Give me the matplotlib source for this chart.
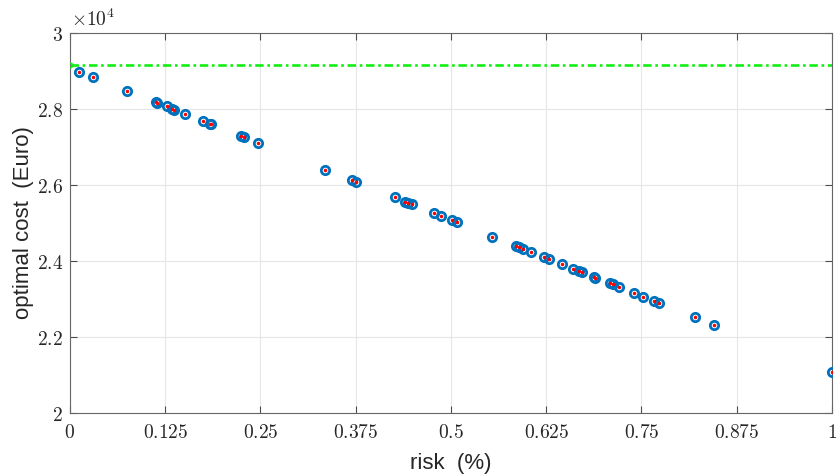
import numpy as np
import matplotlib
matplotlib.use('Agg')
import matplotlib.pyplot as plt
from matplotlib.ticker import FuncFormatter

# risk (fraction) and optimal cost (Euro) for each solution
risk = [0.0122, 0.0306, 0.0748, 0.1125, 0.114, 0.127, 0.1335, 0.1365, 0.151,
        0.175, 0.184, 0.185, 0.2248, 0.2287, 0.247, 0.335, 0.3697, 0.376,
        0.426, 0.440, 0.444, 0.449, 0.478, 0.4865, 0.501, 0.5075, 0.554,
        0.5857, 0.589, 0.595, 0.605, 0.6225, 0.629, 0.6457, 0.6597, 0.668,
        0.6715, 0.688, 0.689, 0.7087, 0.712, 0.7205, 0.7405, 0.7515, 0.7664,
        0.7726, 0.820, 0.8447, 0.9995]
cost = [28980, 28840, 28480, 28180, 28160, 28080, 28010, 27980, 27880,
        27680, 27610, 27600, 27290, 27260, 27110, 26400, 26120, 26080,
        25680, 25560, 25530, 25490, 25260, 25190, 25070, 25030, 24640,
        24390, 24370, 24320, 24240, 24110, 24060, 23920, 23800, 23740,
        23710, 23580, 23560, 23410, 23390, 23310, 23160, 23060, 22960,
        22900, 22520, 22320, 21080]
cost_ref = 29160  # reference cost at zero risk

x_ticks = [0, 0.125, 0.25, 0.375, 0.5, 0.625, 0.75, 0.875, 1]
y_ticks = [20000, 22000, 24000, 26000, 28000, 30000]

plt.rcParams['mathtext.fontset'] = 'cm'

fig = plt.figure(figsize=(8.38, 4.75), dpi=100)
ax = fig.add_axes([0.0835, 0.1305, 0.9093, 0.80])

ax.plot([0, 1], [cost_ref, cost_ref], linestyle=(0, (3.2, 1.4, 1.0, 1.4)),
        color='#11ee11', linewidth=1.9, zorder=2)
ax.plot([0], [cost_ref], 'o', markerfacecolor='none', markeredgecolor='#11ee11',
        markersize=3, markeredgewidth=1.2, zorder=3)
ax.plot(risk, cost, 'o', markerfacecolor='none', markeredgecolor='#0072bd',
        markersize=6, markeredgewidth=2, linestyle='none', zorder=4)
ax.plot(risk, cost, '.', color='red', markersize=3, linestyle='none', zorder=5)

ax.set_xlim(0, 1)
ax.set_ylim(20000, 30000)
ax.set_xticks(x_ticks)
ax.set_yticks(y_ticks)
ax.xaxis.set_major_formatter(FuncFormatter(lambda v, p: f'${v:g}$'))
ax.yaxis.set_major_formatter(FuncFormatter(lambda v, p: f'${v / 1e4:g}$'))
ax.tick_params(direction='in', top=True, right=True, length=5, width=0.8,
               colors='#4d4d4d', labelcolor='#262626', labelsize=14)
ax.tick_params(axis='x', pad=7)
ax.tick_params(axis='y', pad=5)
ax.grid(True, color='#e6e6e6', linewidth=0.8)
ax.set_axisbelow(True)
for s in ax.spines.values():
    s.set_color('#666666')
    s.set_linewidth(0.8)

ax.text(0.002, 1.008, r'$\times10^{4}$', transform=ax.transAxes, fontsize=14,
        color='#262626', ha='left', va='bottom')

ax.set_xlabel('risk  (%)', fontsize=16, family='Liberation Sans', color='#262626', labelpad=8)
ax.set_ylabel('optimal cost  (Euro)', fontsize=16, family='Liberation Sans', color='#262626', labelpad=2)

fig.savefig('out.png', dpi=100)
